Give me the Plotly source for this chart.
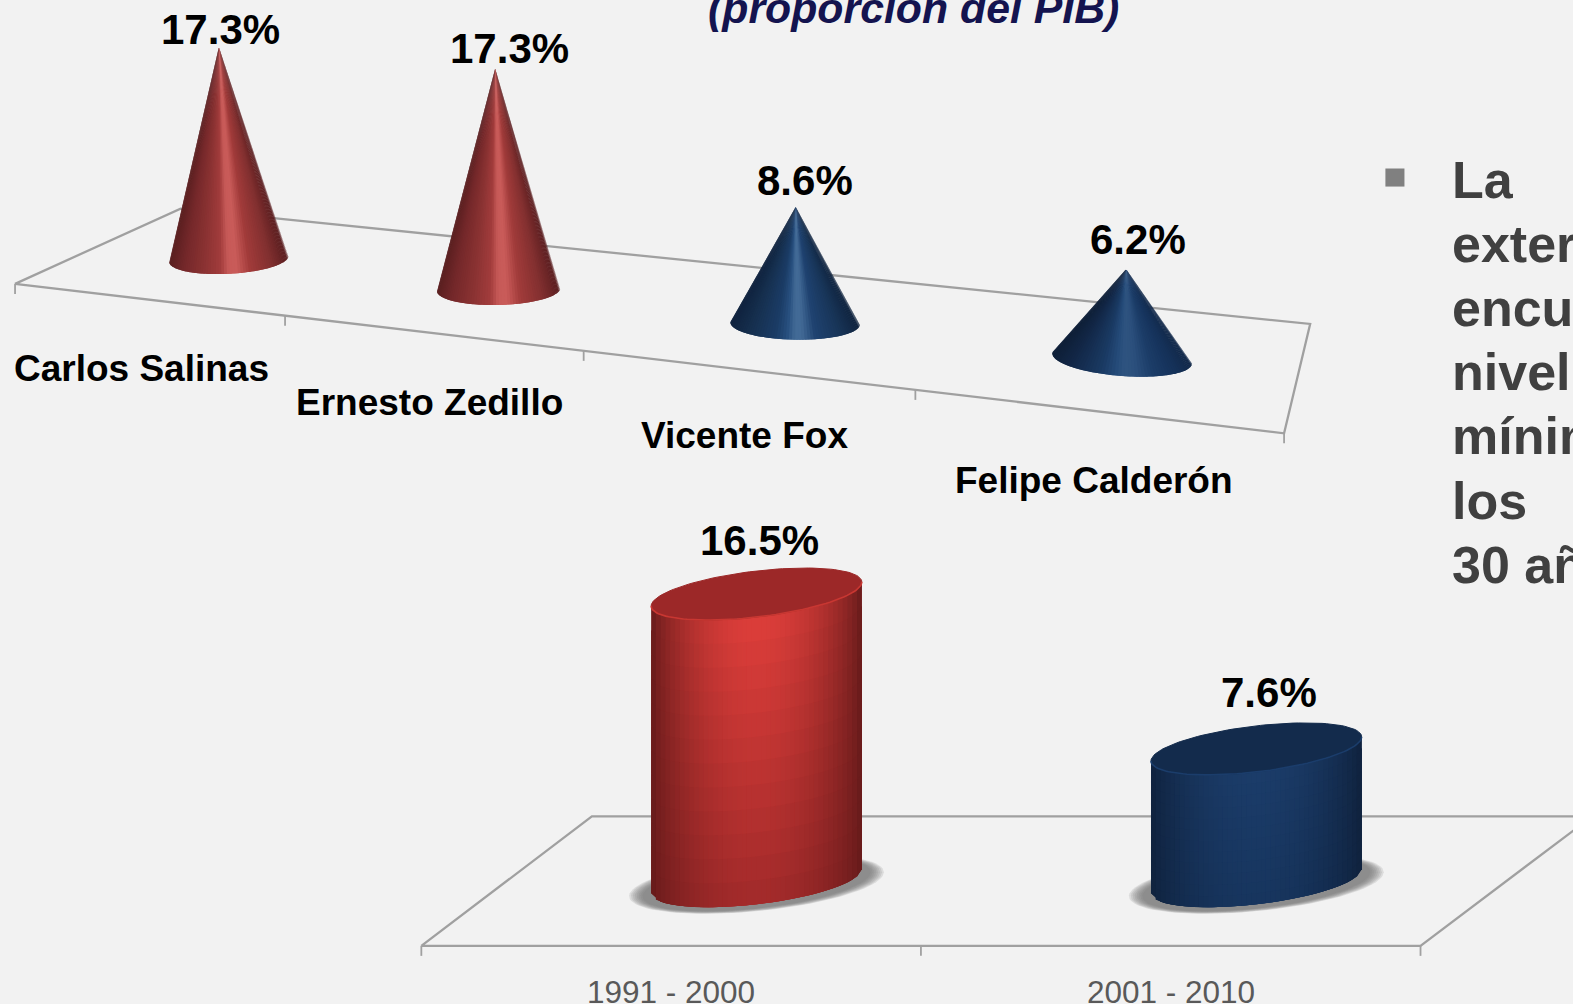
import numpy as np
import plotly.graph_objects as go

# ---------- data ----------
PRESIDENTS = ["Carlos Salinas", "Ernesto Zedillo", "Vicente Fox", "Felipe Calderón"]
PRESIDENT_SHARE = [17.3, 17.3, 8.6, 6.2]
DECADES = ["1991 - 2000", "2001 - 2010"]
DECADE_SHARE = [16.5, 7.6]
TITLE = "(proporción del PIB)"
SIDE_TEXT = ["La", "externa", "encuentra", "nivel", "mínimos", "los", "30 años"]

# ---------- styles / geometry of the picture ----------
W, H = 1568, 1001
BG = "#f2f2f2"
AXIS = "#a0a0a0"
TOP_FLOOR = [(15, 283), (1280, 432), (1306, 323), (180, 208)]
TOP_TICKS = [0, .2473, .4967, .748, 1]
BOT_FLOOR = [(420, 943), (1416, 943), (1587, 814), (590, 814)]
BOT_TICKS = [0, .5, 1]
CONE_WIDTH = [119, 123, 129, 139]
CONE_SHEAR = [-3, -1.5, 1, 5]
CONE_KIND = ["red", "red", "blue", "blue2"]
CONE_K = [0.1025, 0.1034, 0.1046, 0.1033]
CONE_DX = [-1, -2.5, -2.5, -1]
CONE_DY = [1, 2, 3.5, 3]
APEX_DX = [-10, -3.5, 0.5, 4]
CONE_LABEL_OFF = [(2, -18), (14, -20), (9, -27), (12, -30)]
CAT_LABEL_POS = [(141, 367), (428, 401), (742, 434), (1091, 479)]
CYL_K = 17.35
CYL_RX, CYL_RY, CYL_SHEAR = 105, 23, -12
CYL_LABEL_OFF = [(3, -53), (13, -56)]

STOPS = {
    "red": [(0, "#5a1f20"), (.12, "#74282a"), (.3, "#8c3333"), (.43, "#a23c3c"), (.5, "#c75a58"),
            (.57, "#c95b59"), (.68, "#a13b3a"), (.85, "#833030"), (1, "#5a1e20")],
    "blue": [(0, "#10233f"), (.15, "#16304f"), (.35, "#1b3c66"), (.44, "#28507f"), (.5, "#426a96"),
             (.55, "#426a96"), (.66, "#1f4270"), (.85, "#183558"), (1, "#10243f")],
    "blue2": [(0, "#0e1f38"), (.15, "#13294a"), (.35, "#1a3a63"), (.45, "#244a78"), (.52, "#2f5480"),
              (.6, "#2b4f7c"), (.72, "#1c3d69"), (.88, "#15325a"), (1, "#12294a")],
}
CYL = {
    "red": dict(edge="#641a1a", top="#dd3e3a", bot="#a12a2a", cap="#9c2828", rim="#c83732"),
    "blue": dict(edge="#0f213c", top="#1b3c69", bot="#17355e", cap="#132b4c", rim="#1b3d6b"),
}


def rgb(h):
    return np.array([int(h[i:i + 2], 16) for i in (1, 3, 5)], float)


def hexc(c):
    return "#%02x%02x%02x" % tuple(int(round(v)) for v in c)


def ramp(stops, p):
    for (a, ca), (b, cb) in zip(stops, stops[1:]):
        if p <= b:
            f = (p - a) / (b - a)
            return rgb(ca) * (1 - f) + rgb(cb) * f
    return rgb(stops[-1][1])


def homography(quad):
    src = [(0, 0), (1, 0), (1, 1), (0, 1)]
    A, B = [], []
    for (u, v), (x, y) in zip(src, quad):
        A.append([u, v, 1, 0, 0, 0, -u * x, -v * x])
        A.append([0, 0, 0, u, v, 1, -u * y, -v * y])
        B += [x, y]
    h = np.linalg.solve(np.array(A, float), np.array(B, float))
    m = np.append(h, 1).reshape(3, 3)

    def project(u, v):
        x, y, w = m @ np.array([u, v, 1.0])
        return x / w, y / w
    return project


fig = go.Figure()


def poly(xs, ys, color, lw=0.0, opacity=1.0):
    fig.add_trace(go.Scatter(x=list(xs), y=list(ys), mode="lines", fill="toself", fillcolor=color,
                             line=dict(color=color, width=lw), opacity=opacity,
                             hoverinfo="skip", showlegend=False))


def line(xs, ys, color=AXIS, lw=2.3):
    fig.add_trace(go.Scatter(x=list(xs), y=list(ys), mode="lines", line=dict(color=color, width=lw),
                             hoverinfo="skip", showlegend=False))


def ell(cx, cy, rx, ry, s, t):
    return cx + rx * np.cos(t), cy + ry * np.sin(t) + s * np.cos(t)


def draw_floor(project, ticks, tick_len=10):
    c = [project(0, 0), project(1, 0), project(1, 1), project(0, 1), project(0, 0)]
    line([p[0] for p in c], [p[1] for p in c])
    for u in ticks:
        x, y = project(u, 0)
        line([x, x], [y, y + tick_len], lw=1.8)


def draw_cone(cx, cy, rx, ry, s, apex_y, kind, apex_x):
    ts = np.linspace(-np.pi / 2, 3 * np.pi / 2, 1441)
    ex, ey = ell(cx, cy, rx, ry, s, ts)
    ang = np.arctan2(ex - apex_x, ey - apex_y)
    t_r, t_l = ts[np.argmax(ang)], ts[np.argmin(ang)]
    edges = np.linspace(t_r, t_l, 71)
    for j in range(len(edges) - 1):
        a, b = edges[j], edges[min(j + 2, len(edges) - 1)]
        mid = np.linspace(a, b, 5)
        x, y = ell(cx, cy, rx, ry, s, mid)
        xm = cx + rx * np.cos((edges[j] + edges[j + 1]) / 2)
        p = (xm - (cx - rx)) / (2 * rx)
        poly([apex_x, *x, apex_x], [apex_y, *y, apex_y], hexc(ramp(STOPS[kind], p)))


def draw_cylinder(cx, cy, height, style):
    st = CYL[style]
    for k in range(8):
        g = 1 - k / 8
        poly(*ell(cx, cy + 3, 127 * (0.88 + 0.12 * g), 27 * (0.88 + 0.12 * g), CYL_SHEAR,
                  np.linspace(0, 2 * np.pi, 90)), "#6e6e6e", opacity=0.17)
    nx, nv = 44, 12
    ps = np.linspace(0, 1, nx + 1)
    vs = np.linspace(0, 1, nv + 1)
    ty = cy - height

    def front(p):
        a = np.pi - np.arccos(1 - 2 * p)
        return cx + CYL_RX * np.cos(a), CYL_RY * np.sin(a) + CYL_SHEAR * np.cos(a)

    for j in range(nx):
        xa, ya = front(ps[j])
        xb, yb = front(ps[min(j + 2, nx)])
        pm = (ps[j] + ps[j + 1]) / 2
        f = np.sin(np.pi * pm) ** 0.75
        for k in range(nv):
            v0, v1 = vs[k], vs[min(k + 2, nv)]
            vm = (vs[k] + vs[k + 1]) / 2
            center = rgb(st["top"]) * (1 - vm) + rgb(st["bot"]) * vm
            col = rgb(st["edge"]) * (1 - f) + center * f
            yt0, yb0 = ty + ya + height * v0, ty + ya + height * v1
            yt1, yb1 = ty + yb + height * v0, ty + yb + height * v1
            poly([xa, xb, xb, xa, xa], [yt0, yt1, yb1, yb0, yt0], hexc(col))
    tt = np.linspace(0, 2 * np.pi, 120)
    x, y = ell(cx, ty, CYL_RX, CYL_RY, CYL_SHEAR, tt)
    poly(x, y, st["cap"], lw=1)
    tt = np.linspace(0, np.pi, 60)
    x, y = ell(cx, ty, CYL_RX, CYL_RY, CYL_SHEAR, tt)
    line(x, y, st["rim"], 1.6)


def label(x, y, text, size, color="#000000", bold=True, italic=False, xanchor="center", yanchor="middle"):
    s = text
    if bold:
        s = f"<b>{s}</b>"
    if italic:
        s = f"<i>{s}</i>"
    fig.add_annotation(x=x, y=y, text=s, showarrow=False, xanchor=xanchor, yanchor=yanchor,
                       font=dict(family="Liberation Sans", size=size, color=color))


# ---------- top chart ----------
top = homography(TOP_FLOOR)
n = len(PRESIDENTS)
draw_floor(top, TOP_TICKS)
for i, v in enumerate(PRESIDENT_SHARE):
    cx, cy = top((i + .5) / n, .5)
    cx, cy = cx + CONE_DX[i], cy + CONE_DY[i]
    w = CONE_WIDTH[i]
    rx, ry = w / 2, w * 0.125
    h = v * w * CONE_K[i]
    apex_x, apex_y = cx + APEX_DX[i], cy - h
    draw_cone(cx, cy, rx, ry, CONE_SHEAR[i], apex_y, CONE_KIND[i], apex_x)
    ox, oy = CONE_LABEL_OFF[i]
    label(apex_x + ox, apex_y + oy, f"{v}%", 42)
    label(*CAT_LABEL_POS[i], PRESIDENTS[i], 37)

# ---------- bottom chart ----------
bot = homography(BOT_FLOOR)
n = len(DECADES)
draw_floor(bot, BOT_TICKS)
for i, v in enumerate(DECADE_SHARE):
    cx, cy = bot((i + .5) / n, .5)
    h = v * CYL_K
    draw_cylinder(cx, cy, h, ["red", "blue"][i])
    ox, oy = CYL_LABEL_OFF[i]
    label(cx + ox, cy - h + oy, f"{v}%", 42)
    tx, ty = bot((i + .5) / n, 0)
    label(tx, ty + 46, DECADES[i], 31.5, color="#595959", bold=False)

# ---------- surrounding slide text ----------
label(911, 8, TITLE, 42.8, color="#14144f", italic=True)
fig.add_shape(type="rect", x0=1381, x1=1400, y0=168, y1=186, fillcolor="#808080", line_width=0)
for i, t in enumerate(SIDE_TEXT):
    label(1445, 179 + i * 64, t, 52, color="#404040", xanchor="left")

fig.update_layout(
    width=1573, height=1004, margin=dict(l=0, r=0, t=0, b=0),
    paper_bgcolor=BG, plot_bgcolor=BG, showlegend=False,
    xaxis=dict(range=[0, W], visible=False, fixedrange=True),
    yaxis=dict(range=[H, 0], visible=False, fixedrange=True),
)
fig.write_html("out.html", config=dict(displayModeBar=False),
               post_script="document.body.style.margin='0';document.body.style.overflow='hidden';")
